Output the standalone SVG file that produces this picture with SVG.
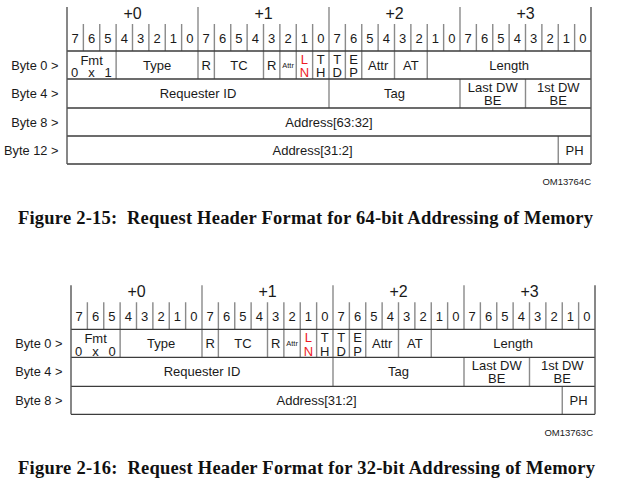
<svg xmlns="http://www.w3.org/2000/svg" width="622" height="483" viewBox="0 0 622 483">
<style>
.t{font-family:"Liberation Sans",Arial,sans-serif;font-size:13px;fill:#1a1a1a;text-anchor:middle}
.hd{font-size:16px}
.sm{font-size:7.5px}
.red{fill:#ee1c25}
.lbl{text-anchor:end;font-size:12.8px}
.om{font-size:9.5px;text-anchor:end}
.cap{font-family:"Liberation Serif","Times New Roman",serif;font-weight:bold;font-size:18.5px;fill:#111}
.h{stroke:#3c3c3c;stroke-width:1.3;fill:none}
.v{stroke:#8a8a8a;stroke-width:1.4;fill:none}
.b{stroke:#555;stroke-width:1.4;fill:none}
</style>
<defs>
<g id="bitrow">
<path class="v" d="M83.375 24V51M99.75 24V51M116.125 24V51M132.5 24V51M148.875 24V51M165.25 24V51M181.625 24V51M214.375 24V51M230.75 24V51M247.125 24V51M263.5 24V51M279.875 24V51M296.25 24V51M312.625 24V51M345.375 24V51M361.75 24V51M378.125 24V51M394.5 24V51M410.875 24V51M427.25 24V51M443.625 24V51M476.375 24V51M492.75 24V51M509.125 24V51M525.5 24V51M541.875 24V51M558.25 24V51M574.625 24V51"/>
<path class="v" d="M198 7V51M329 7V51M460 7V51"/>
<text class="t hd" x="132.5" y="18.5">+0</text>
<text class="t hd" x="263.5" y="18.5">+1</text>
<text class="t hd" x="394.5" y="18.5">+2</text>
<text class="t hd" x="525.5" y="18.5">+3</text>
<text class="t" y="43.2"><tspan x="75.19">7</tspan><tspan x="91.56">6</tspan><tspan x="107.94">5</tspan><tspan x="124.31">4</tspan><tspan x="140.69">3</tspan><tspan x="157.06">2</tspan><tspan x="173.44">1</tspan><tspan x="189.81">0</tspan><tspan x="206.19">7</tspan><tspan x="222.56">6</tspan><tspan x="238.94">5</tspan><tspan x="255.31">4</tspan><tspan x="271.69">3</tspan><tspan x="288.06">2</tspan><tspan x="304.44">1</tspan><tspan x="320.81">0</tspan><tspan x="337.19">7</tspan><tspan x="353.56">6</tspan><tspan x="369.94">5</tspan><tspan x="386.31">4</tspan><tspan x="402.69">3</tspan><tspan x="419.06">2</tspan><tspan x="435.44">1</tspan><tspan x="451.81">0</tspan><tspan x="468.19">7</tspan><tspan x="484.56">6</tspan><tspan x="500.94">5</tspan><tspan x="517.31">4</tspan><tspan x="533.69">3</tspan><tspan x="550.06">2</tspan><tspan x="566.44">1</tspan><tspan x="582.81">0</tspan></text>
</g>
<g id="row0">
<path class="v" d="M116.125 51V79M198 51V79M214.375 51V79M263.5 51V79M279.875 51V79M296.25 51V79M312.625 51V79M329 51V79M345.375 51V79M361.75 51V79M394.5 51V79M427.25 51V79"/>
<text class="t" x="91.6" y="65">Fmt</text>
<text class="t" x="157.06" y="70">Type</text>
<text class="t" x="206.19" y="70">R</text>
<text class="t" x="238.94" y="70">TC</text>
<text class="t" x="271.69" y="70">R</text>
<text class="t sm" x="288.06" y="67.5">Attr</text>
<text class="t red" x="304.44" y="64">L</text>
<text class="t red" x="304.44" y="77.3">N</text>
<text class="t" x="320.81" y="64">T</text>
<text class="t" x="320.81" y="77.3">H</text>
<text class="t" x="337.19" y="64">T</text>
<text class="t" x="337.19" y="77.3">D</text>
<text class="t" x="353.56" y="64">E</text>
<text class="t" x="353.56" y="77.3">P</text>
<text class="t" x="378.125" y="70">Attr</text>
<text class="t" x="410.875" y="70">AT</text>
<text class="t" x="509.125" y="70">Length</text>
</g>
<g id="row4">
<path class="v" d="M329 79V108M460 79V108M525.5 79V108"/>
<text class="t" x="198" y="98">Requester ID</text>
<text class="t" x="394.5" y="98">Tag</text>
<text class="t" x="492.75" y="92">Last DW</text>
<text class="t" x="492.75" y="104.5">BE</text>
<text class="t" x="558.25" y="92">1st DW</text>
<text class="t" x="558.25" y="104.5">BE</text>
</g>
</defs>

<g id="figure-2-15">
<g id="header-64"><use href="#bitrow"/></g>
<g id="byte0-64"><use href="#row0"/>
<text class="t" x="74.5" y="77.3">0</text><text class="t" x="91.6" y="77.3">x</text><text class="t" x="108" y="77.3">1</text>
<text class="t lbl" x="58.5" y="70">Byte 0 &gt;</text></g>
<g id="byte4-64"><use href="#row4"/><text class="t lbl" x="58.5" y="98">Byte 4 &gt;</text></g>
<g id="byte8-64"><text class="t" x="329" y="126.5">Address[63:32]</text><text class="t lbl" x="58.5" y="126.5">Byte 8 &gt;</text></g>
<g id="byte12-64"><path class="v" d="M558.25 136V164"/><text class="t" x="312.6" y="154.5">Address[31:2]</text><text class="t" x="574.6" y="154.5">PH</text><text class="t lbl" x="58.5" y="154.5">Byte 12 &gt;</text></g>
<g id="frame-64">
<path class="h" d="M67 51H591M67 79H591M67 108H591M67 136H591M67 164H591"/>
<path class="b" d="M67 7V164M591 7V164"/>
</g>
<text class="t om" x="591" y="185">OM13764C</text>
</g>

<g id="figure-2-16">
<g transform="translate(4,278.3)">
<g id="header-32"><use href="#bitrow"/></g>
<g id="byte0-32"><use href="#row0"/>
<text class="t" x="74.5" y="77.3">0</text><text class="t" x="91.6" y="77.3">x</text><text class="t" x="108" y="77.3">0</text>
<text class="t lbl" x="58.5" y="70">Byte 0 &gt;</text></g>
<g id="byte4-32"><use href="#row4"/><text class="t lbl" x="58.5" y="98">Byte 4 &gt;</text></g>
<g id="byte8-32"><path class="v" d="M558.25 108V136"/><text class="t" x="312.6" y="126.5">Address[31:2]</text><text class="t" x="574.6" y="126.5">PH</text><text class="t lbl" x="58.5" y="126.5">Byte 8 &gt;</text></g>
<g id="frame-32">
<path class="h" d="M67 51H591M67 79H591M67 108H591M67 136H591"/>
<path class="b" d="M67 7V136M591 7V136"/>
</g>
</g>
<text class="t om" x="593" y="436">OM13763C</text>
</g>

<text class="cap" x="18" y="223.5" xml:space="preserve" textLength="575">Figure 2-15:  Request Header Format for 64-bit Addressing of Memory</text>
<text class="cap" x="18" y="473.5" xml:space="preserve" textLength="577">Figure 2-16:  Request Header Format for 32-bit Addressing of Memory</text>
</svg>
